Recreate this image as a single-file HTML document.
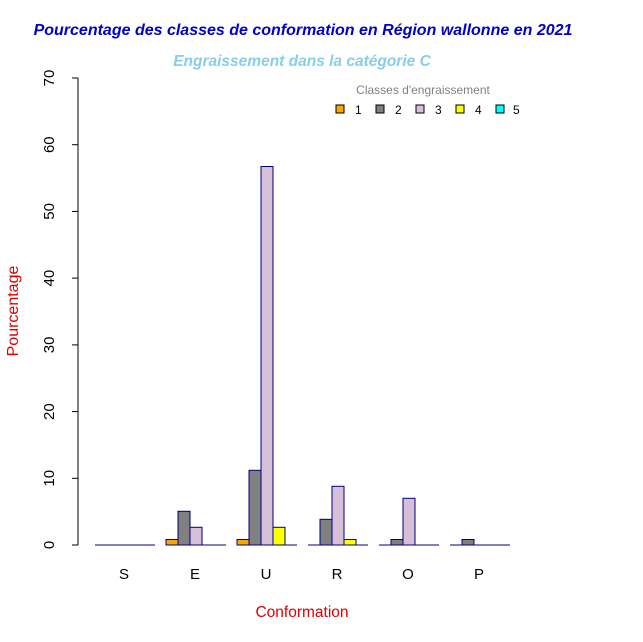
<!DOCTYPE html>
<html><head><meta charset="utf-8"><style>body{margin:0;background:#fff}svg{display:block}</style></head>
<body>
<svg width="643" height="642" xmlns="http://www.w3.org/2000/svg" font-family="Liberation Sans, sans-serif">
<rect width="643" height="642" fill="#fff"/>
<text x="303" y="35" text-anchor="middle" font-size="16" font-weight="bold" font-style="italic" fill="#0000cc">Pourcentage des classes de conformation en Région wallonne en 2021</text>
<text x="302" y="66" text-anchor="middle" font-size="15.5" font-weight="bold" font-style="italic" fill="#87ceeb">Engraissement dans la catégorie C</text>
<g stroke="#000" stroke-width="1">
<line x1="78" y1="78" x2="78" y2="545"/>
<line x1="72" y1="545" x2="78" y2="545"/><line x1="72" y1="478.3" x2="78" y2="478.3"/><line x1="72" y1="411.6" x2="78" y2="411.6"/><line x1="72" y1="344.9" x2="78" y2="344.9"/><line x1="72" y1="278.1" x2="78" y2="278.1"/><line x1="72" y1="211.4" x2="78" y2="211.4"/><line x1="72" y1="144.7" x2="78" y2="144.7"/><line x1="72" y1="78" x2="78" y2="78"/>
</g>
<g font-size="15" fill="#000" text-anchor="middle">
<text transform="translate(54,545) rotate(-90)">0</text>
<text transform="translate(54,478.3) rotate(-90)">10</text>
<text transform="translate(54,411.6) rotate(-90)">20</text>
<text transform="translate(54,344.9) rotate(-90)">30</text>
<text transform="translate(54,278.1) rotate(-90)">40</text>
<text transform="translate(54,211.4) rotate(-90)">50</text>
<text transform="translate(54,144.7) rotate(-90)">60</text>
<text transform="translate(54,78) rotate(-90)">70</text>
<text x="124" y="579">S</text><text x="195" y="579">E</text><text x="266" y="579">U</text><text x="337" y="579">R</text><text x="408" y="579">O</text><text x="479" y="579">P</text>
</g>
<text transform="translate(18,311) rotate(-90)" text-anchor="middle" font-size="16" fill="#e00000">Pourcentage</text>
<text x="302" y="617" text-anchor="middle" font-size="15.5" fill="#e00000">Conformation</text>
<g stroke="#000080" stroke-width="1">
<line x1="95" y1="545" x2="155" y2="545"/><line x1="166" y1="545" x2="226" y2="545"/><line x1="237" y1="545" x2="297" y2="545"/><line x1="308" y1="545" x2="368" y2="545"/><line x1="379" y1="545" x2="439" y2="545"/><line x1="450" y1="545" x2="510" y2="545"/>
<rect x="166" y="539.5" width="12" height="5.5" fill="#ffa500"/>
<rect x="178" y="511.3" width="12" height="33.7" fill="#808080"/>
<rect x="190" y="527.3" width="12" height="17.7" fill="#d8bfd8"/>
<rect x="237" y="539.5" width="12" height="5.5" fill="#ffa500"/>
<rect x="249" y="470.3" width="12" height="74.7" fill="#808080"/>
<rect x="261" y="166.5" width="12" height="378.5" fill="#d8bfd8"/>
<rect x="273" y="527.3" width="12" height="17.7" fill="#ffff00"/>
<rect x="320" y="519.3" width="12" height="25.7" fill="#808080"/>
<rect x="332" y="486.3" width="12" height="58.7" fill="#d8bfd8"/>
<rect x="344" y="539.5" width="12" height="5.5" fill="#ffff00"/>
<rect x="391" y="539.5" width="12" height="5.5" fill="#808080"/>
<rect x="403" y="498.3" width="12" height="46.7" fill="#d8bfd8"/>
<rect x="462" y="539.5" width="12" height="5.5" fill="#808080"/>
</g>
<text x="423" y="94" text-anchor="middle" font-size="12" fill="#808080">Classes d'engraissement</text>
<g stroke="#000" stroke-width="1" font-size="12">
<rect x="336" y="105" width="8" height="8" fill="#ffa500"/>
<rect x="376" y="105" width="8" height="8" fill="#808080"/>
<rect x="416" y="105" width="8" height="8" fill="#d8bfd8"/>
<rect x="456" y="105" width="8" height="8" fill="#ffff00"/>
<rect x="496" y="105" width="8" height="8" fill="#00ffff"/>
</g>
<g font-size="12" fill="#000">
<text x="355" y="114">1</text><text x="395" y="114">2</text><text x="435" y="114">3</text><text x="475" y="114">4</text><text x="513" y="114">5</text>
</g>
</svg>
</body></html>
